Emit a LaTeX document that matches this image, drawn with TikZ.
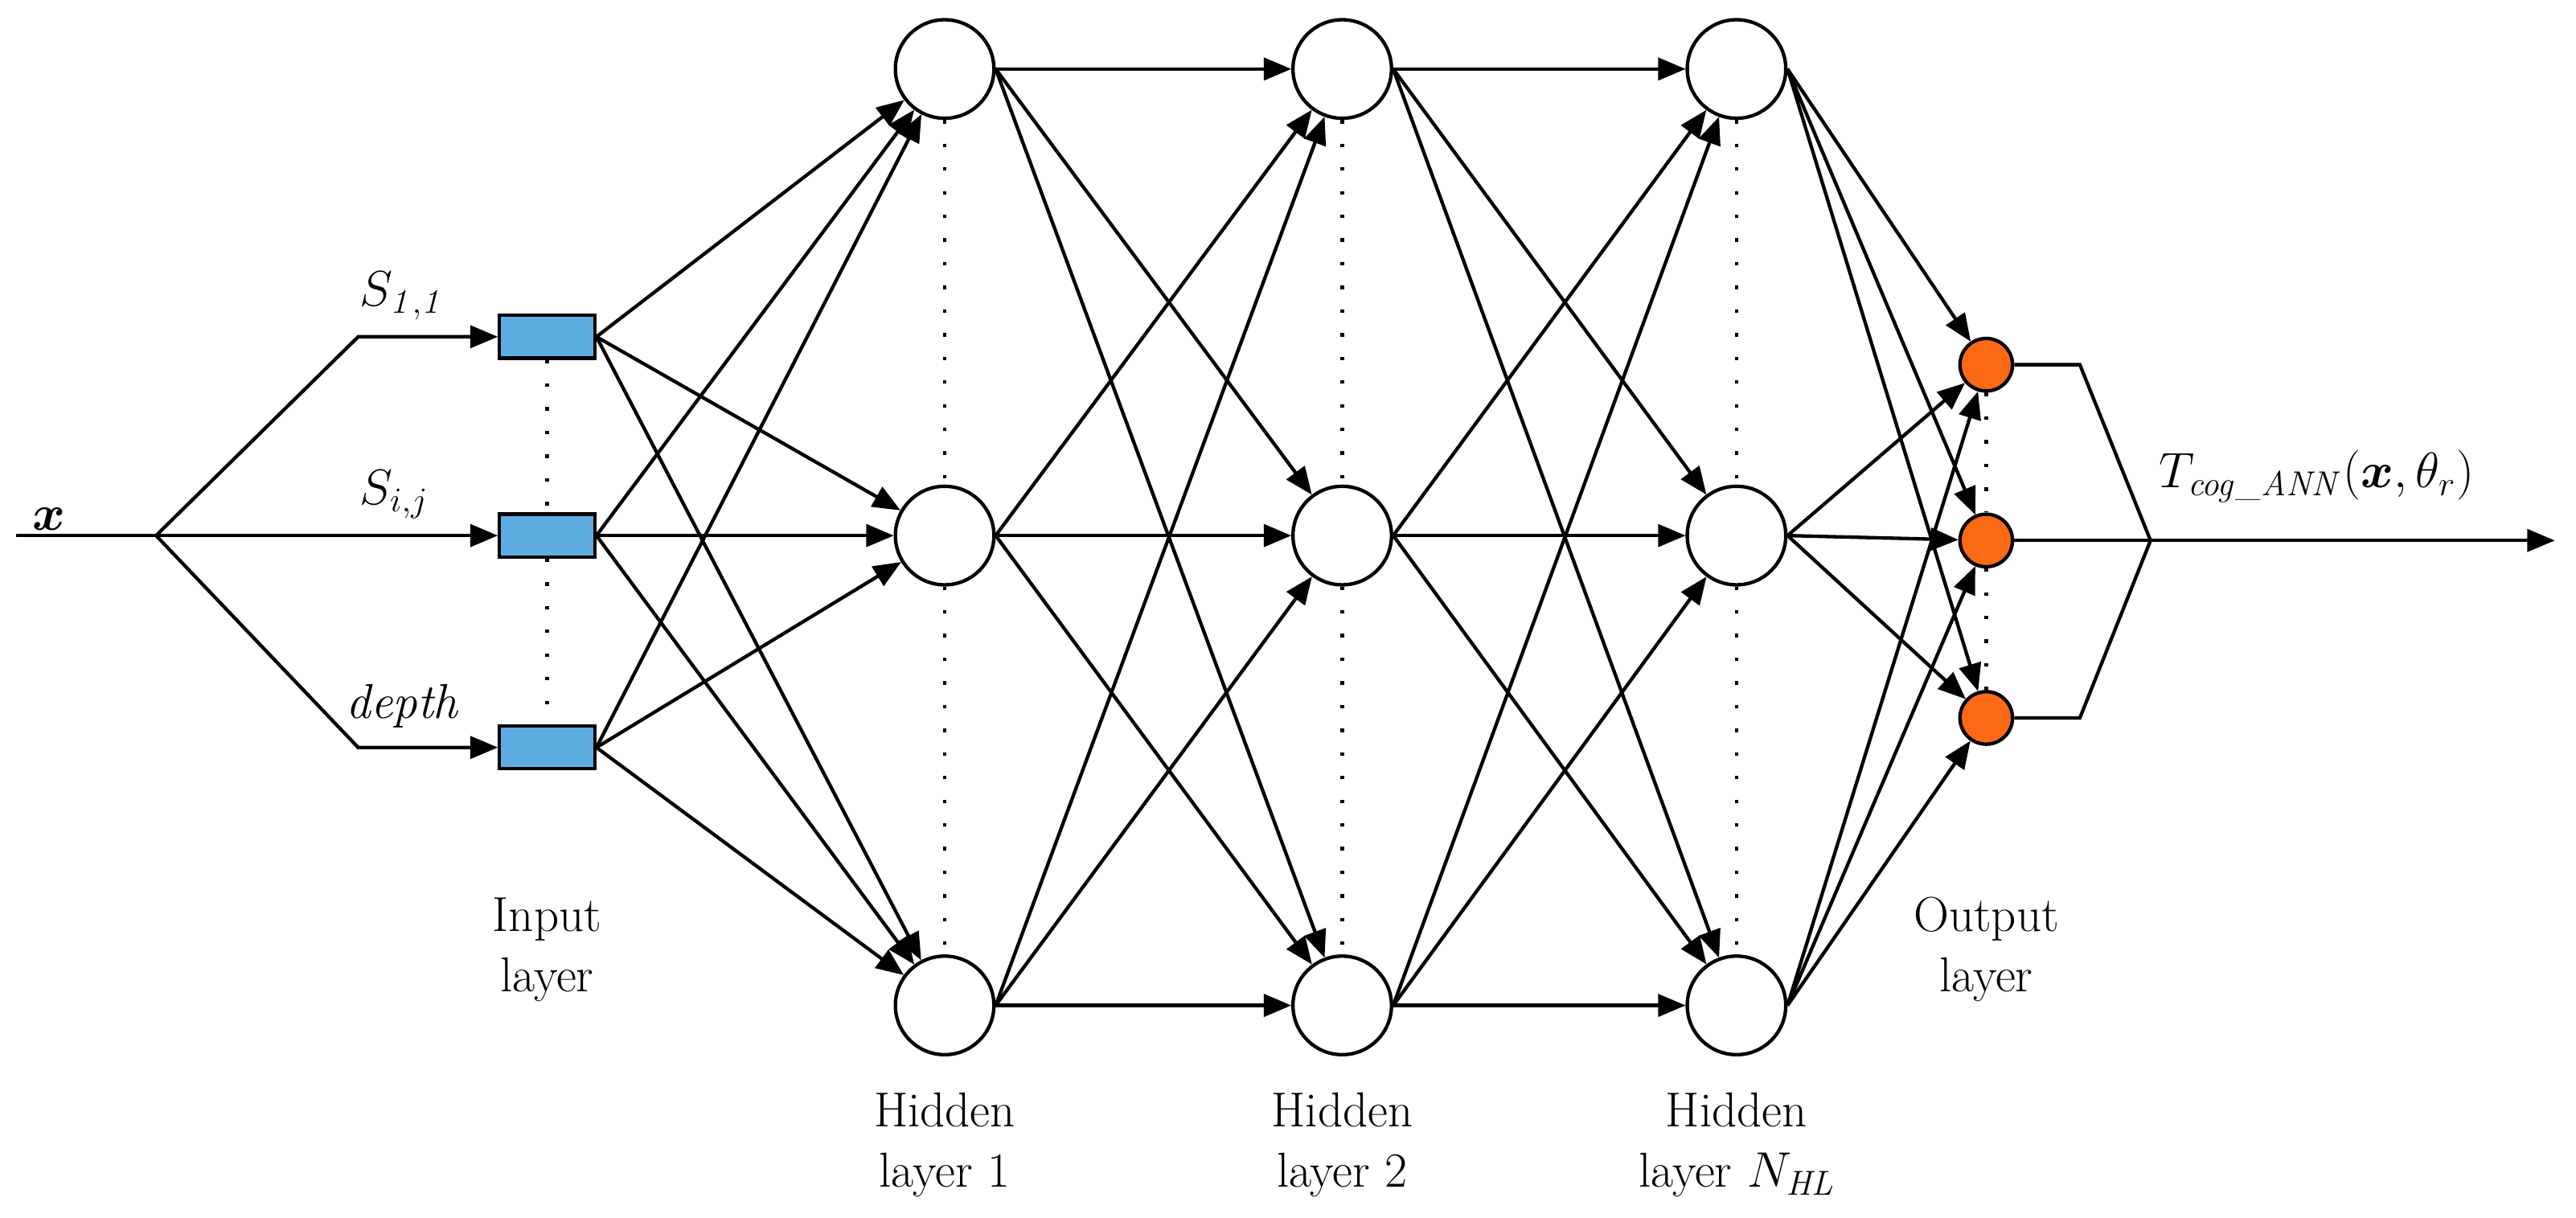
\documentclass[tikz,border=0pt]{standalone}
\usepackage{amsmath}
\usepackage{bm}
\usetikzlibrary{arrows}
\definecolor{inBlue}{RGB}{93,173,226}
\definecolor{outOrange}{RGB}{250,105,20}
\begin{document}
\begin{tikzpicture}[x=0.02cm, y=-0.02cm, ->, >=triangle 45, line width=1.2pt]
        \tikzset{
           inputNode/.style={
                        rectangle,
                        draw=black,
                        fill=inBlue,
                        minimum width=1.16cm,
                        minimum height=0.52cm,
                        inner sep=0pt
                       },
           hiddenNode/.style={
                        circle,
                        draw=black,
                        fill=white,
                        minimum size=1.2cm,
                        inner sep=0pt
                       },
           outputNode/.style={
                        circle,
                        draw=black,
                        fill=outOrange,
                        minimum size=0.64cm,
                        inner sep=0pt
                       },
           layerDots/.style={
                        -,
                        line width=1.2pt,
                        dash pattern=on 1.2pt off 7pt
                       },
           layerLabel/.style={
                        align=center,
                        font=\fontsize{17}{21}\selectfont
                       },
           sigLabel/.style={
                        font=\fontsize{17}{21}\selectfont
                       },
                 };
        \useasboundingbox (0,0) rectangle (1568,741);
    %--------------------
        \coordinate (xIn)    at (10,326);
        \coordinate (split)  at (95,326);
        \coordinate (bendA)  at (218,205);
        \coordinate (bendC)  at (218,455);

        \node[inputNode]  (inA) at (333,205) {};
        \node[inputNode]  (inB) at (333,326) {};
        \node[inputNode]  (inC) at (333,455) {};

        \foreach \name/\xx in {hA/575,hB/817,hC/1057}{
            \node[hiddenNode] (\name1) at (\xx,42)  {};
            \node[hiddenNode] (\name2) at (\xx,326) {};
            \node[hiddenNode] (\name3) at (\xx,612) {};
            \draw[layerDots] (\name1) -- (\name2);
            \draw[layerDots] (\name2) -- (\name3);
        }

        \node[outputNode] (outA) at (1209,222) {};
        \node[outputNode] (outB) at (1209,329) {};
        \node[outputNode] (outC) at (1209,437) {};

        \coordinate (mergeA) at (1266,222);
        \coordinate (mergeC) at (1266,437);
        \coordinate (apex)   at (1309,329);
        \coordinate (tEnd)   at (1555,329);
    %--------------------
        \draw[layerDots] (inA) -- (inB);
        \draw[layerDots] (inB) -- (inC);
        \draw[layerDots] (outA) -- (outB);
        \draw[layerDots] (outB) -- (outC);

        \draw[-] (xIn) -- (split);
        \draw (split) -- (bendA) -- (inA);
        \draw (split) -- (inB);
        \draw (split) -- (bendC) -- (inC);

        \foreach \s in {inA,inB,inC}
            \foreach \t in {1,2,3}
                \draw (\s.east) -- (hA\t);
        \foreach \s in {1,2,3}
            \foreach \t in {1,2,3}{
                \draw (hA\s.east) -- (hB\t);
                \draw (hB\s.east) -- (hC\t);
            }
        \foreach \s in {1,2,3}
            \foreach \t in {outA,outB,outC}
                \draw (hC\s.east) -- (\t);

        \draw[-] (outA) -- (mergeA) -- (apex);
        \draw[-] (outC) -- (mergeC) -- (apex);
        \draw[-] (outB) -- (apex);
        \draw (apex) -- (tEnd);
    %--------------------
        \node[sigLabel] at (30,316) {$\bm{x}$};
        \node[sigLabel] at (245,180) {$S_{\mathit{1,1}}$};
        \node[sigLabel] at (240,301) {$S_{i,j}$};
        \node[sigLabel] at (245,430) {\textit{depth}};
        \node[sigLabel] at (1410,290) {$T_{\mathit{cog\_ANN}}(\bm{x},\theta_r)$};

        \node[layerLabel] at (333,578) {Input\\layer};
        \node[layerLabel] at (1209,578) {Output\\layer};
        \node[layerLabel] at (575,697) {Hidden\\layer 1};
        \node[layerLabel] at (817,697) {Hidden\\layer 2};
        \node[layerLabel] at (1057,697) {Hidden\\layer $N_{\mathit{HL}}$};
\end{tikzpicture}
\end{document}
